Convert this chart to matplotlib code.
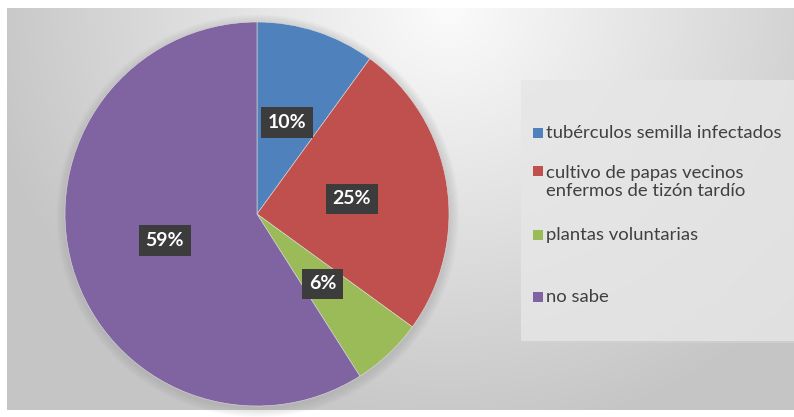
import numpy as np
import matplotlib.pyplot as plt
from matplotlib.patches import Rectangle, Circle

# datos del gráfico
categorias = ["tubérculos semilla infectados",
              "cultivo de papas vecinos\nenfermos de tizón tardío",
              "plantas voluntarias",
              "no sabe"]
porcentajes = [10, 25, 6, 59]
colores = ["#4F81BD", "#C0504D", "#9BBB59", "#8064A2"]

plt.rcParams['font.family'] = ['Lato', 'DejaVu Sans']

W, H = 794, 417
fig = plt.figure(figsize=(W / 100, H / 100), dpi=100)
fig.patch.set_facecolor("white")

# fondo con degradado (zona del gráfico)
bg = fig.add_axes([7 / W, 7 / H, 1 - 7 / W, 1 - 15 / H])
yy, xx = np.mgrid[0:400, 0:787]
dist = np.sqrt((xx - 440) ** 2 + ((yy - 0) * 1.1) ** 2)
shade = 0.985 - 0.21 * np.clip(dist / 470, 0, 1)
bg.imshow(np.dstack([shade] * 3), aspect="auto", extent=[0, 1, 0, 1], origin="upper")
bg.set_axis_off()

# caja de la leyenda
fig.patches.append(Rectangle((521 / W, 1 - 341 / H), 273 / W, 261 / H,
                             transform=fig.transFigure, facecolor="#e6e6e6",
                             edgecolor="none", alpha=0.85, zorder=1))
fig.patches.append(Rectangle((521 / W, 1 - 343 / H), 273 / W, 2 / H,
                             transform=fig.transFigure, facecolor="#d2d2d2",
                             edgecolor="none", alpha=0.7, zorder=1))

# torta
r = 192
cx, cy = 257, 214
ax = fig.add_axes([(cx - r) / W, 1 - (cy + r) / H, 2 * r / W, 2 * r / H])

# sombra suave alrededor de la torta
for k in range(8):
    ax.add_patch(Circle((0.004, -0.01), 1.0 + 0.006 * (k + 1), facecolor="#888888",
                        edgecolor="none", alpha=0.035, zorder=0, clip_on=False))

wedges, textos = ax.pie(porcentajes, colors=colores, startangle=90,
                        counterclock=False, labels=[f"{p}%" for p in porcentajes],
                        labeldistance=0.5, radius=1,
                        wedgeprops=dict(linewidth=0.4, edgecolor="#dddddd"),
                        textprops=dict(color="white", fontsize=14, fontweight="bold",
                                       ha="center", va="center"))
for w in wedges:
    w.set_zorder(2)
for t in textos:
    t.set_zorder(3)
    t.set_bbox(dict(boxstyle="square,pad=0.35", facecolor="#3c3c3c", edgecolor="none"))
ax.set_xlim(-1, 1)
ax.set_ylim(-1, 1)
ax.set_aspect("equal")

# leyenda
ys = [133, 171, 235, 297]
for y, c, nombre in zip(ys, colores, categorias):
    fig.patches.append(Rectangle((533 / W, 1 - (y + 5) / H), 10 / W, 10 / H,
                                 transform=fig.transFigure, facecolor=c,
                                 edgecolor="none", zorder=2))
    if "\n" in nombre:
        fig.text(546 / W, 1 - (y - 6) / H, nombre, fontsize=13.3, color="#404040",
                 va="top", ha="left", linespacing=1.12)
    else:
        fig.text(546 / W, 1 - y / H, nombre, fontsize=13.3, color="#404040",
                 va="center", ha="left")

fig.savefig("out.png", dpi=100)
